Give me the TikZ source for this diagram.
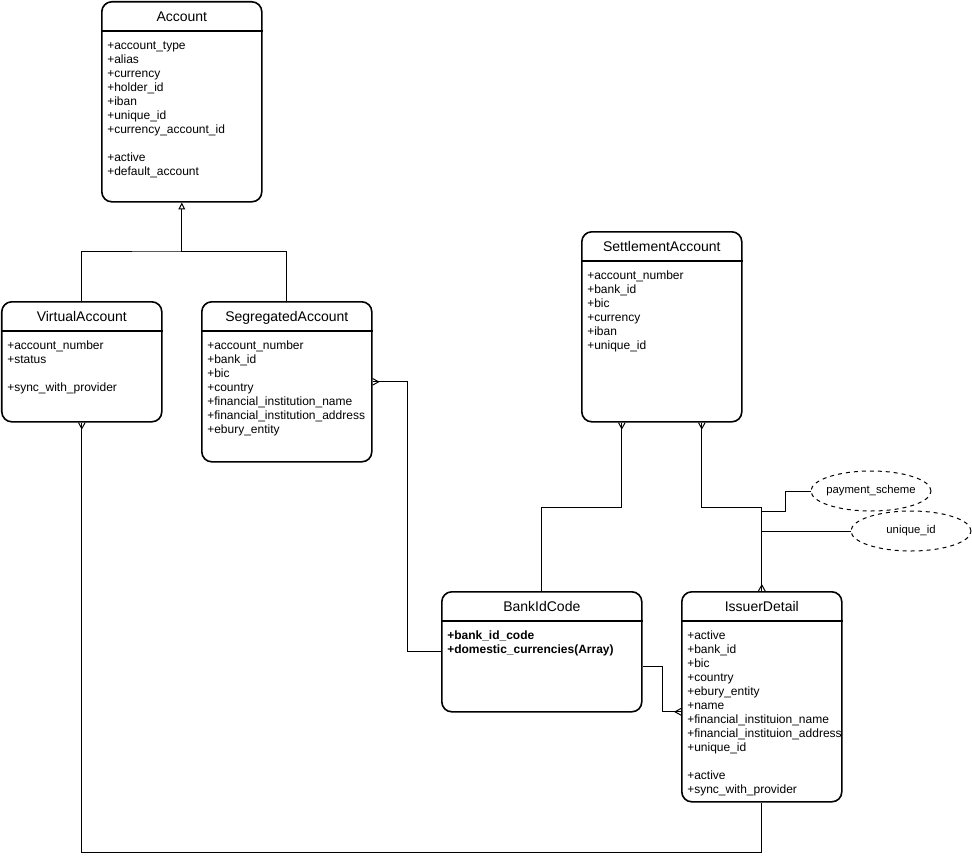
\documentclass[tikz,border=0pt]{standalone}
\usepackage{fontspec}
\setmainfont{Liberation Sans}
\usetikzlibrary{arrows.meta,shapes.geometric}
\pgfdeclarearrow{
  name = crowfoot,
  parameters = {},
  setup code = {
    \pgfarrowssettipend{0pt}
    \pgfarrowssetlineend{0pt}
    \pgfarrowssetbackend{-4.5pt}
    \pgfarrowssetvisualbackend{-4.5pt}
    \pgfarrowshullpoint{0pt}{2.5pt}
    \pgfarrowshullpoint{0pt}{-2.5pt}
    \pgfarrowshullpoint{-4.5pt}{0pt}
  },
  drawing code = {
    \pgfsetmiterjoin
    \pgfpathmoveto{\pgfqpoint{0pt}{2.5pt}}
    \pgfpathlineto{\pgfqpoint{-4.5pt}{0pt}}
    \pgfpathlineto{\pgfqpoint{0pt}{-2.5pt}}
    \pgfusepathqstroke
  },
  defaults = {}
}
\tikzset{
  umlbox/.style={draw, line width=1.2pt, rounded corners=7.5pt, inner sep=0pt, anchor=north west},
  umltitle/.style={font=\fontsize{10.5}{12}\selectfont, inner sep=0pt, anchor=base},
  attrs/.style={font=\fontsize{9}{10.5}\selectfont, inner sep=0pt, align=left, anchor=north west},
  conn/.style={line width=0.75pt},
  attrib/.style={ellipse, draw, dashed, line width=0.75pt, minimum width=90pt, minimum height=30pt, inner sep=0pt, font=\fontsize{8.5}{10}\selectfont},
  gen/.style={conn, -{Triangle[open,length=5pt,width=5pt]}},
}
\newcommand{\umlclass}[7]{%
  \node[umlbox, minimum width=#4*0.75pt, minimum height=#5*0.75pt] (#1) at (#2,#3) {};
  \draw[line width=1.2pt] ([yshift=-22.5pt]#1.north west) -- ([yshift=-22.5pt]#1.north east);
  \node[umltitle] (#1-title) at ([yshift=-15.4pt]#1.north) {#6};
  \node[attrs] (#1-attrs) at ([xshift=4.5pt,yshift=-28pt]#1.north west) {\rule{0pt}{8pt}#7};
}
\begin{document}
\begin{tikzpicture}[x=0.75pt,y=-0.75pt]
\useasboundingbox (0,0) rectangle (972,860);

\umlclass{acc}{101}{1}{160}{200}{Account}{+account\_type\\+alias\\+currency\\+holder\_id\\+iban\\+unique\_id\\+currency\_account\_id\\[10.5pt]+active\\+default\_account}
\umlclass{va}{1}{301}{160}{120}{VirtualAccount}{+account\_number\\+status\\[10.5pt]+sync\_with\_provider}
\umlclass{sa}{201}{301}{170}{160}{SegregatedAccount}{+account\_number\\+bank\_id\\+bic\\+country\\+financial\_institution\_name\\+financial\_institution\_address\\+ebury\_entity}
\umlclass{stl}{581}{231}{160}{190}{SettlementAccount}{+account\_number\\+bank\_id\\+bic\\+currency\\+iban\\+unique\_id}
\umlclass{bic}{441}{591}{200}{120}{BankIdCode}{\textbf{+bank\_id\_code}\\\textbf{+domestic\_currencies(Array)}}
\umlclass{iss}{681}{591}{160}{210}{IssuerDetail}{+active\\+bank\_id\\+bic\\+country\\+ebury\_entity\\+name\\+financial\_instituion\_name\\+financial\_instituion\_address\\+unique\_id\\[10.5pt]+active\\+sync\_with\_provider}

\node[attrib] (ps) at (871,491) {\makebox[0pt]{payment\_scheme}};
\node[attrib] (uid) at (911,531) {\makebox[0pt]{unique\_id}};

% generalization
\coordinate (j) at (181,251);
\draw[gen] (va.north) |- (j) -- (j -| acc.south) -- (acc.south);
\draw[conn] (sa.north) |- (j);

% associations
\draw[conn, crowfoot-] (sa.east) -- ++(35,0) |- (bic.west);
\draw[conn, crowfoot-] ([xshift=-30pt]stl.south) -- ++(0,85) -| (bic.north);
\draw[conn, crowfoot-crowfoot] ([xshift=30pt]stl.south) -- ++(0,85) -| (iss.north);
\draw[conn] (ps.west) -- ++(-25,0) |- ([yshift=60pt]iss.north);
\draw[conn] (uid.west) -- (uid.west -| iss.north);
\draw[conn, -crowfoot] ([yshift=-11.25pt]bic.east) -- ++(20,0) |- ([yshift=-11.25pt]iss.west);
\draw[conn, crowfoot-] (va.south) -- ++(0,430) -| (iss.south);
\end{tikzpicture}
\end{document}
